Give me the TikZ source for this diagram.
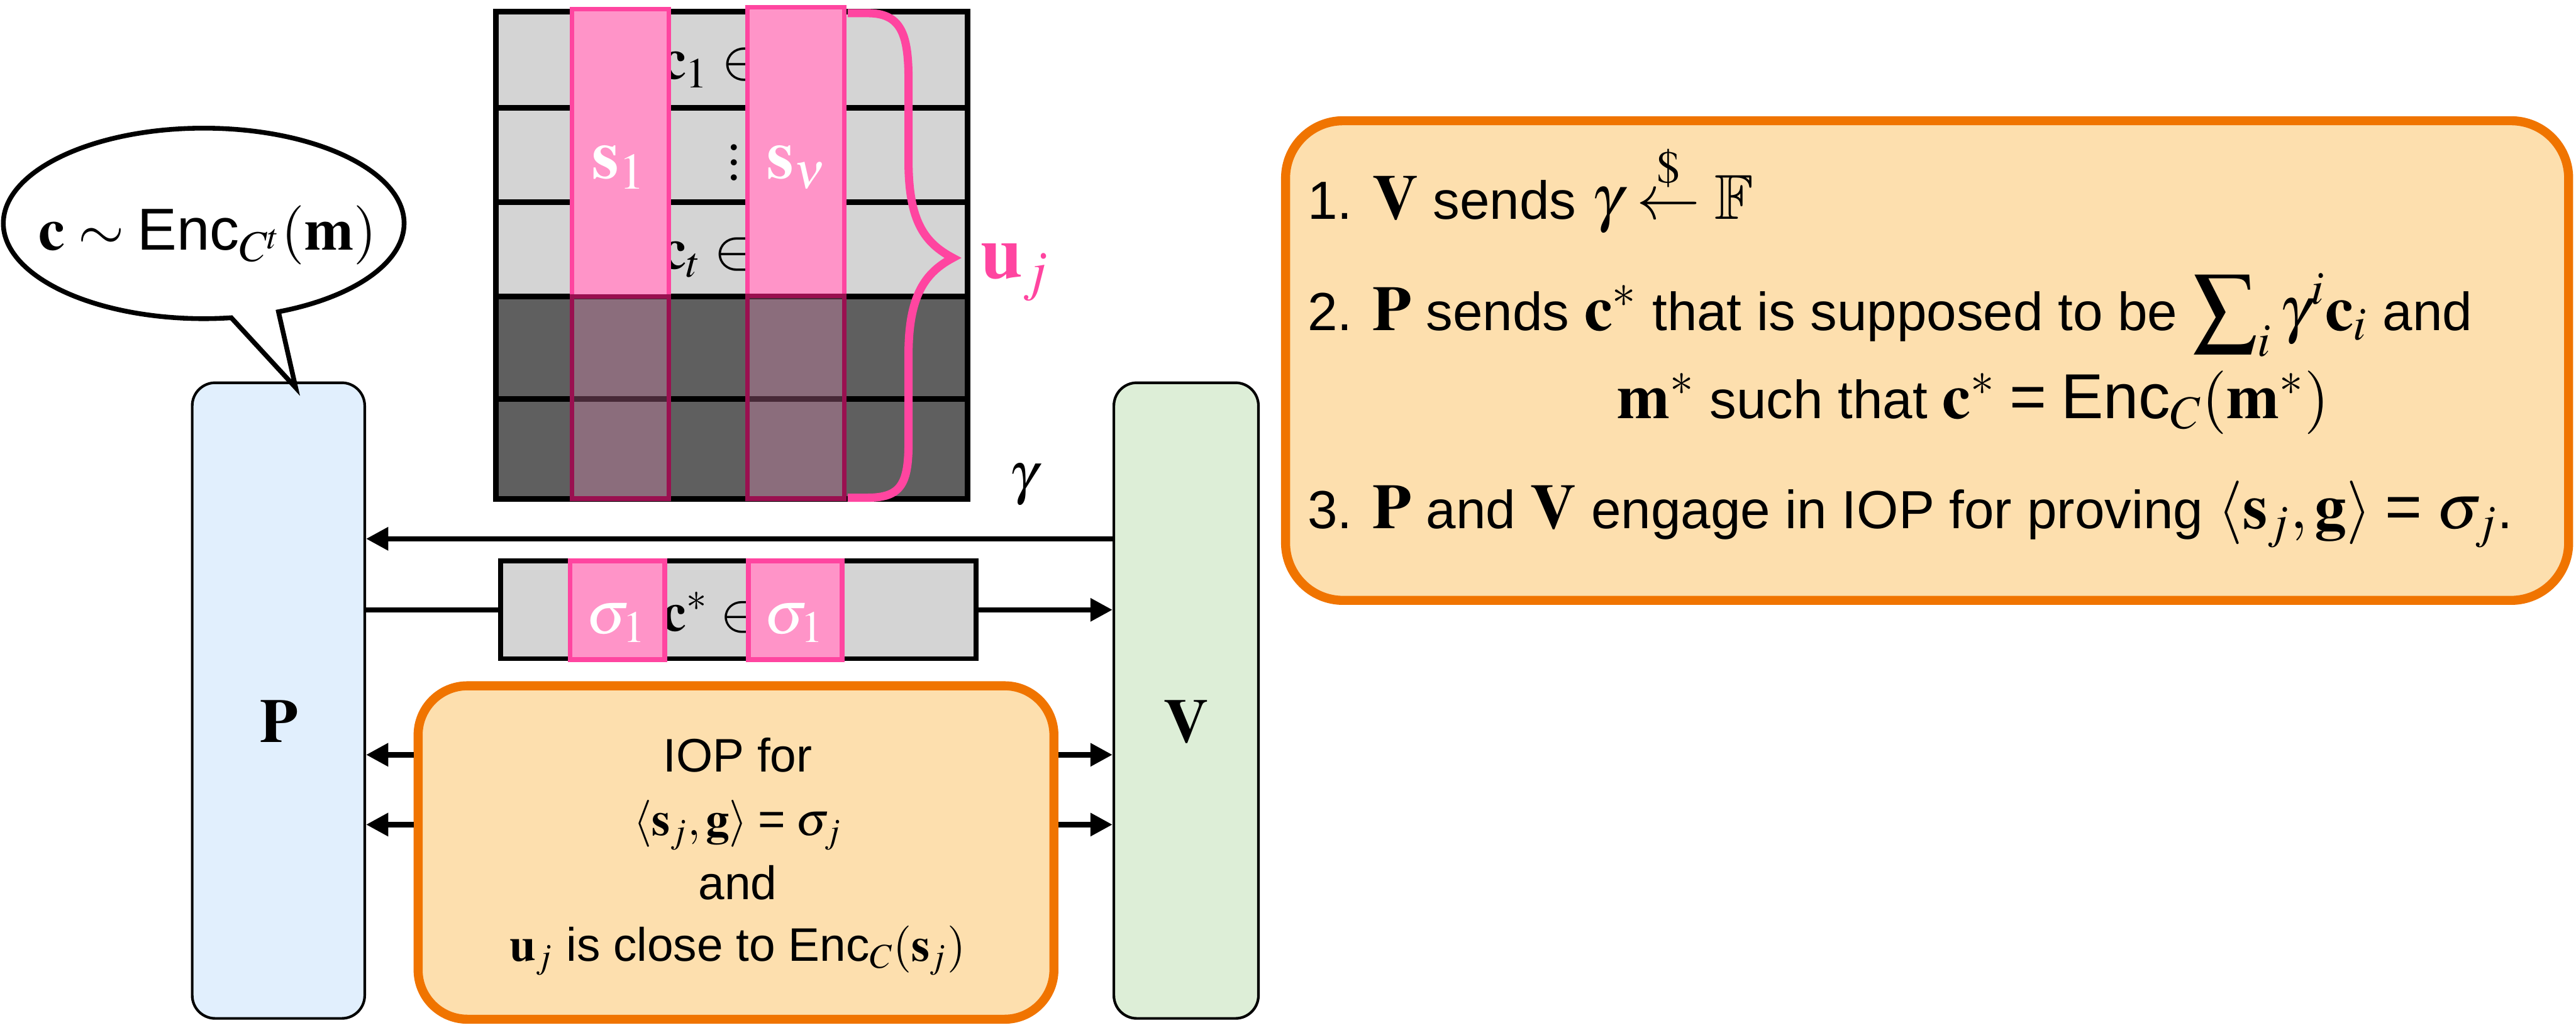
\documentclass[tikz,border=0pt]{standalone}
\usepackage{amsmath}
\usepackage{mathptmx}
\usepackage{amssymb}
\usepackage[no-math]{fontspec}
\setmainfont{Liberation Sans}
\usetikzlibrary{arrows.meta,shapes.callouts,fit}
\definecolor{pfill}{HTML}{E1EFFD}
\definecolor{vfill}{HTML}{DDEED7}
\definecolor{ofill}{HTML}{FDDFAE}
\definecolor{oline}{HTML}{F07400}
\definecolor{pinkfill}{HTML}{FF94C8}
\definecolor{pinkline}{HTML}{FF45A0}
\definecolor{mauveline}{HTML}{9A1050}
\definecolor{lgray}{HTML}{D4D4D4}
\definecolor{dgray}{HTML}{5F5F5F}
\newcommand\fsbubble{\fontsize{20.5}{24}\selectfont}
\newcommand\fsiop{\fontsize{16.3}{20}\selectfont}
\newcommand\fsstep{\fontsize{18.6}{22}\selectfont}
\newcommand\fsbig{\fontsize{21.5}{26}\selectfont}
\newcommand\fsgrid{\fontsize{20}{24}\selectfont}
\newcommand\fslab{\fontsize{24}{28}\selectfont}
\newcommand\stm[1]{{\fontsize{22}{22}\selectfont$#1$}}
\newcommand\eqs{\mathrel{\text{=}}}
\begin{document}
\begin{tikzpicture}[x=0.02cm,y=-0.02cm,
  party/.style={draw=black, line width=0.032cm, rounded corners=0.28cm, inner sep=0pt},
  arr/.style={line width=0.066cm, -{Triangle[length=0.27cm,width=0.27cm]}},
  plainline/.style={line width=0.066cm},
  gridrow/.style={draw=black, line width=0.07cm},
  colup/.style={draw=pinkline, fill=pinkfill, line width=0.056cm, inner sep=0pt},
  coldown/.style={draw=mauveline, fill=pinkfill, fill opacity=0.28, draw opacity=1, line width=0.056cm, inner sep=0pt},
  orangebox/.style={draw=oline, fill=ofill, line width=0.11cm, inner sep=0pt},
  lbl/.style={inner sep=0pt, outer sep=0pt},
]
\useasboundingbox (0,0) rectangle (1568,630);

% parties
\node[party, fill=pfill, fit={(117,233) (222,620)}] (P) {};
\node[party, fill=vfill, fit={(678,233) (766,620)}] (V) {};
\node[lbl, anchor=base] (Plbl) at (170,452) {\fsbig$\mathbf{P}$};
\node[lbl, anchor=base] (Vlbl) at (722,452) {\fsbig$\mathbf{V}$};

% speech bubble
\node[ellipse callout, draw=black, fill=white, line width=0.058cm,
  minimum width=4.88cm, minimum height=2.32cm, inner sep=0pt,
  callout absolute pointer={(180,236)}, callout pointer arc=14] (bubble) at (124,136) {};
\node[lbl, anchor=base] (btext) at (126.5,152) {\fsbubble$\mathbf{c}\sim\text{Enc}_{C^t}(\mathbf{m})$};

% grid
\draw[gridrow, fill=lgray] (302,7) rectangle (589,65.6);
\draw[gridrow, fill=lgray] (302,65.6) rectangle (589,123);
\draw[gridrow, fill=lgray] (302,123) rectangle (589,180.5);
\draw[gridrow, fill=dgray] (302,180.5) rectangle (589,243);
\draw[gridrow, fill=dgray] (302,243) rectangle (589,303.6);
\node[lbl, anchor=base west] (c1) at (402,48) {\fsgrid$\mathbf{c}_1\in$};
\node[lbl, anchor=base west] (ct) at (402,163.5) {\fsgrid$\mathbf{c}_t\in$};
\node[lbl] (vd) at (447,99) {\fsgrid\vbox{\baselineskip5.3pt\lineskiplimit0pt\hbox{$.$}\hbox{$.$}\hbox{$.$}}};

% columns s_1 and s_nu
\node[colup, fit={(348.2,5.5) (407,180.5)}] (s1up) {};
\node[colup, fit={(455,4.3) (514,180)}] (snup) {};
\node[coldown, fit={(348.2,180.5) (407,303.6)}] (s1dn) {};
\node[coldown, fit={(455,180) (514,303.6)}] (sndn) {};
\node[lbl, anchor=base, text=white] (s1lbl) at (377,108.5) {\fslab$\mathbf{s}_1$};
\node[lbl, anchor=base, text=white] (snlbl) at (485,108.5) {\fslab$\mathbf{s}_\nu$};

% brace and u_j
\draw[pinkline, line width=0.1cm] (516,8) -- (528,8) .. controls (548,8) and (553,20) .. (553,48)
  -- (553,98) .. controls (553,135) and (563,148) .. (580,157)
  .. controls (563,166) and (553,180) .. (553,216) -- (553,270)
  .. controls (553,295) and (548,303) .. (528,303) -- (516,303);
\node[lbl, anchor=base west, text=pinkline] (uj) at (597,169.4) {\fontsize{26}{30}\selectfont$\mathbf{u}_j$};

% gamma arrow
\coordinate (yg) at (0,328);
\node[lbl, anchor=base] (gam) at (623,300) {\fsgrid$\gamma$};
\draw[arr] (V.west |- yg) -- (P.east |- yg);

% c* bar
\node[draw=black, fill=lgray, line width=0.06cm, inner sep=0pt, fit={(304.6,341.5) (594,401)}] (cbar) {};
\node[lbl, anchor=base west] (cstar) at (403,384) {\fontsize{19}{23}\selectfont$\mathbf{c}^*\in$};
\node[colup, line width=0.06cm, fit={(347,341.5) (404.6,401.5)}] (sg1) {};
\node[colup, line width=0.06cm, fit={(455.5,341.5) (512.6,401.5)}] (sg2) {};
\node[lbl, anchor=base, text=white] (sg1lbl) at (375.5,385.5) {\fontsize{21}{25}\selectfont$\sigma_1$};
\node[lbl, anchor=base, text=white] (sg2lbl) at (483.5,385.5) {\fontsize{21}{25}\selectfont$\sigma_1$};
\draw[plainline] (P.east |- cbar.west) -- (cbar.west);
\draw[arr] (cbar.east) -- (V.west |- cbar.east);

% IOP box
\coordinate (ya) at (0,459.5);
\coordinate (yb) at (0,502);
\node[orangebox, rounded corners=0.6cm, fit={(254.5,417.5) (641.5,620.5)}] (iop) {};
\draw[arr] (iop.west |- ya) -- (P.east |- ya);
\draw[arr] (iop.west |- yb) -- (P.east |- yb);
\draw[arr] (iop.east |- ya) -- (V.west |- ya);
\draw[arr] (iop.east |- yb) -- (V.west |- yb);
\node[lbl, anchor=base] (iopA) at (449,470) {\fsiop IOP for};
\node[lbl, anchor=base] (iopB) at (449,508.7) {\fsiop$\langle\mathbf{s}_j,\mathbf{g}\rangle\eqs\sigma_j$};
\node[lbl, anchor=base] (iopC) at (449,547.6) {\fsiop and};
\node[lbl, anchor=base] (iopD) at (449,585) {\fsiop$\mathbf{u}_j$ is close to $\text{Enc}_C(\mathbf{s}_j)$};

% steps box
\node[orangebox, rounded corners=0.7cm, fit={(782.5,73.5) (1563.5,365.5)}] (steps) {};
\node[lbl, anchor=base west] (st1) at (796,133.3) {\fsstep 1. \stm{\mathbf{V}} sends \stm{\gamma\mathrel{\overset{\$}{\leftarrow}}\mathbb{F}}};
\node[lbl, anchor=base west] (st2) at (796,201) {\fsstep 2. \stm{\mathbf{P}} sends \stm{\mathbf{c}^*} that is supposed to be \stm{\displaystyle\sum\nolimits_i\gamma^i\mathbf{c}_i} and};
\node[lbl, anchor=base] (st3) at (1201,254.8) {\fsstep\stm{\mathbf{m}^*} such that \stm{\mathbf{c}^*\eqs\text{Enc}_C(\mathbf{m}^*)}};
\node[lbl, anchor=base west] (st4) at (796,321.6) {\fsstep 3. \stm{\mathbf{P}} and \stm{\mathbf{V}} engage in IOP for proving \stm{\langle\mathbf{s}_j,\mathbf{g}\rangle\eqs\sigma_j}.};
\end{tikzpicture}
\end{document}
